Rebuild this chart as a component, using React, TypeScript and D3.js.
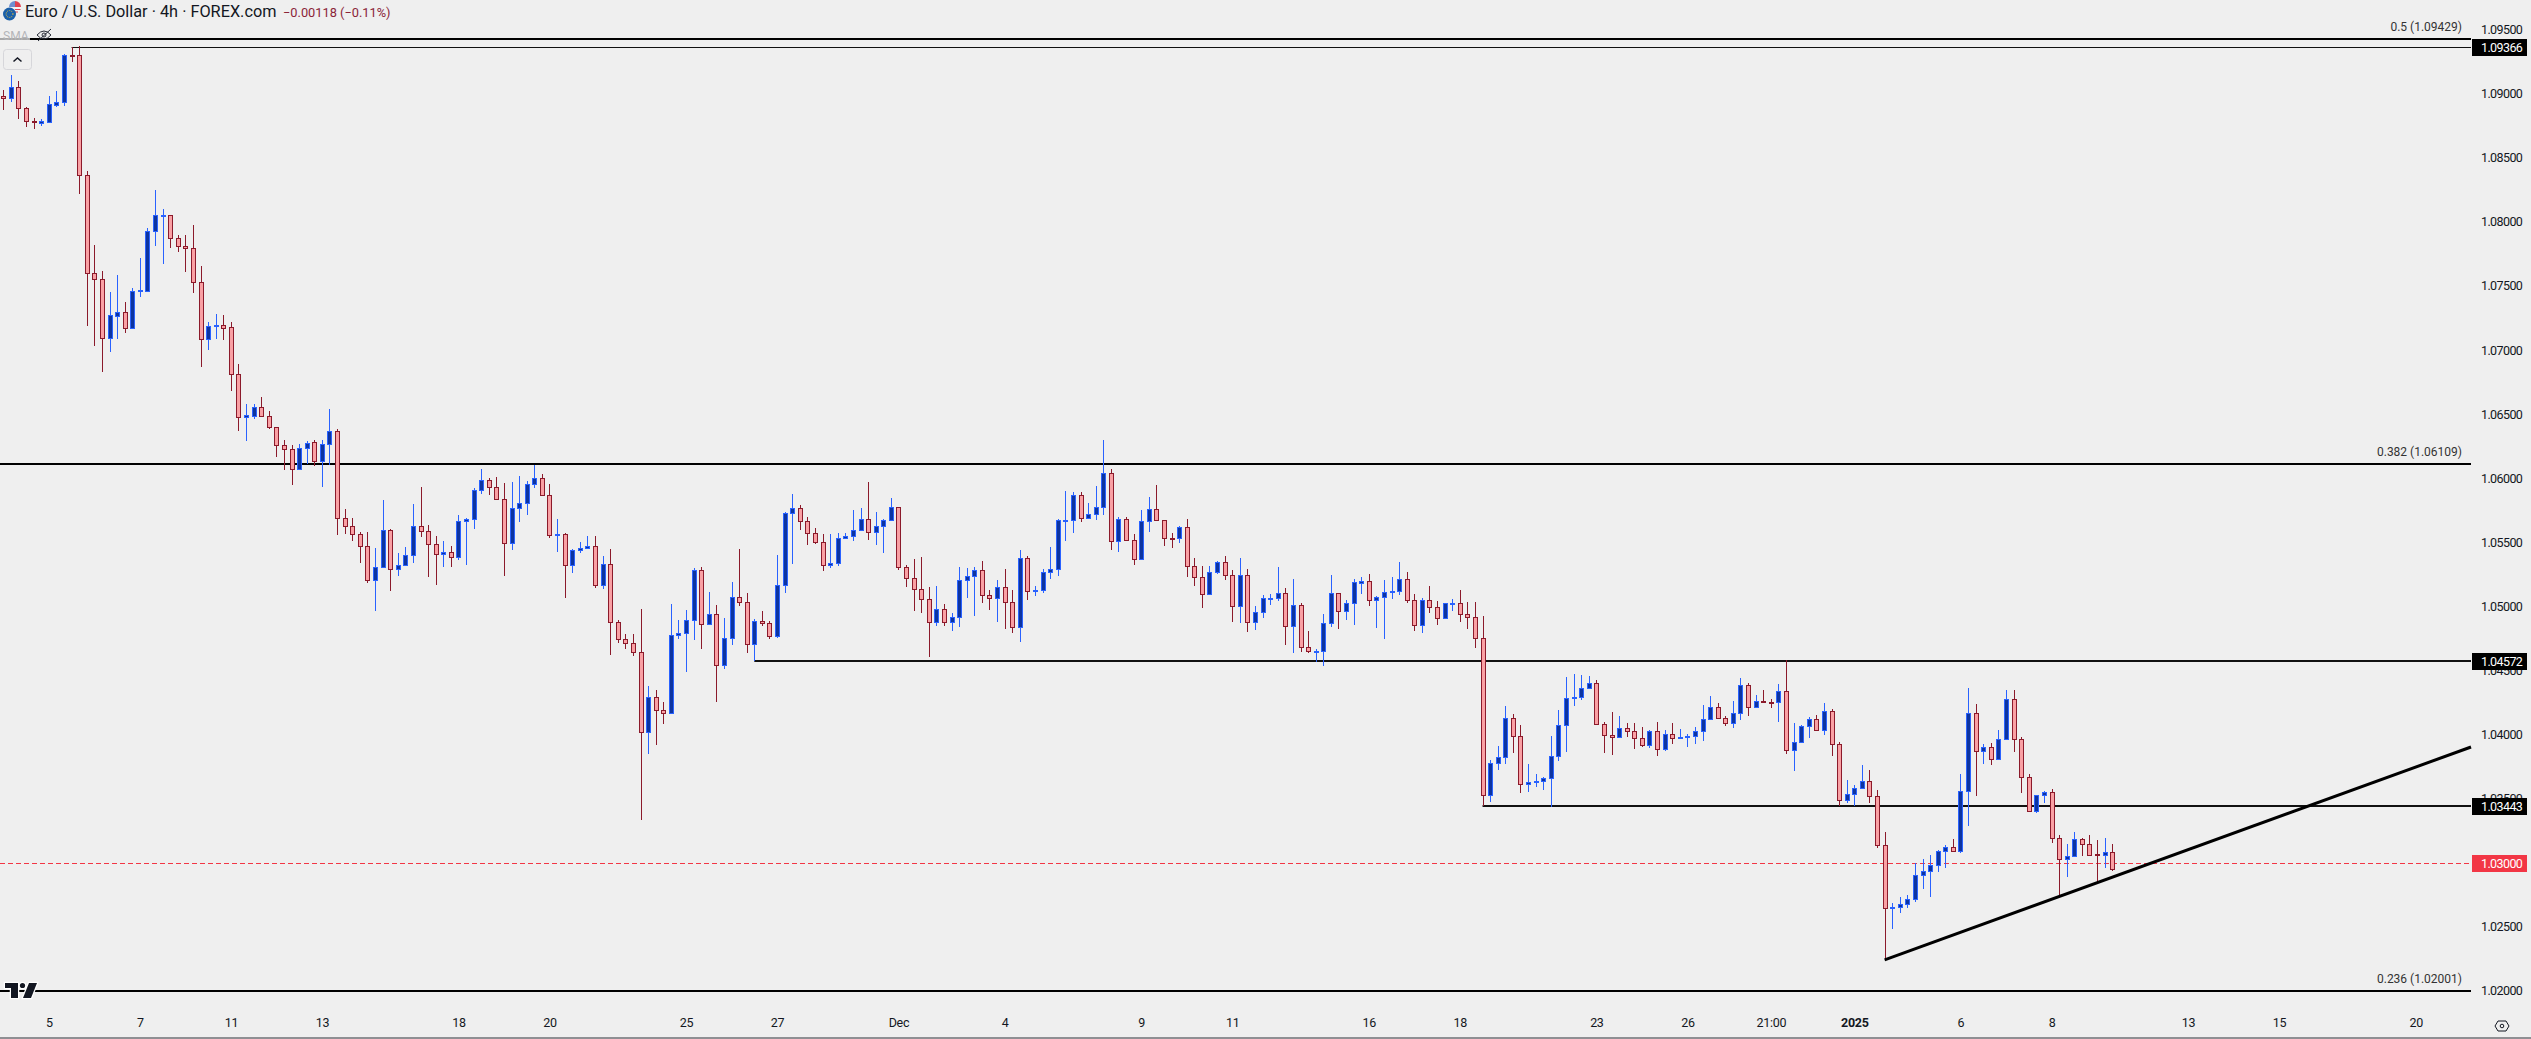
import React, { useEffect, useRef } from "react";
import * as d3 from "d3";

const highs = [
  1.09030,1.09147,1.09100,1.08894,1.08811,1.08803,1.08980,1.09022,1.09311,1.09363,
  1.09370,1.08395,1.07820,1.07617,1.07453,1.07586,1.07375,1.07482,1.07719,1.07950,
  1.08249,1.08101,1.08052,1.07898,1.07898,1.07976,1.07656,1.07219,1.07282,1.07274,
  1.07219,1.06892,1.06579,1.06579,1.06634,1.06525,1.06400,1.06298,1.06259,1.06267,
  1.06291,1.06298,1.06298,1.06540,1.06384,1.05760,1.05690,1.05580,1.05580,1.05456,
  1.05830,1.05604,1.05417,1.05463,1.05799,1.05932,1.05635,1.05549,1.05510,1.05471,
  1.05713,1.05687,1.05921,1.06072,1.05999,1.06009,1.05962,1.05970,1.06017,1.05978,
  1.06103,1.06033,1.05954,1.05681,1.05569,1.05447,1.05502,1.05549,1.05549,1.05393,
  1.05447,1.04893,1.04784,1.04784,1.04979,1.04378,1.04347,1.04253,1.05018,1.04893,
  1.04971,1.05296,1.05304,1.05112,1.05010,1.04909,1.05190,1.05447,1.05104,1.04901,
  1.04963,1.04885,1.05400,1.05733,1.05876,1.05788,1.05697,1.05611,1.05564,1.05564,
  1.05572,1.05572,1.05752,1.05767,1.05970,1.05736,1.05679,1.05845,1.05772,1.05322,
  1.05369,1.05385,1.05151,1.05159,1.05018,1.04948,1.05307,1.05299,1.05307,1.05354,
  1.05127,1.05205,1.05291,1.05127,1.05439,1.05393,1.05159,1.05291,1.05463,1.05681,
  1.05900,1.05892,1.05892,1.05806,1.05939,1.06298,1.06069,1.05697,1.05697,1.05564,
  1.05752,1.05853,1.05947,1.05671,1.05572,1.05627,1.05681,1.05377,1.05315,1.05315,
  1.05354,1.05393,1.05283,1.05377,1.05291,1.05002,1.05088,1.05096,1.05307,1.05143,
  1.05213,1.05026,1.04807,1.04667,1.04940,1.05244,1.05101,1.05049,1.05213,1.05229,
  1.05252,1.05081,1.05205,1.05229,1.05346,1.05268,1.05096,1.05065,1.05159,1.05042,
  1.05023,1.05057,1.05127,1.05034,1.05034,1.04925,1.03801,1.03911,1.04223,1.04160,
  1.04074,1.03770,1.03692,1.03669,1.03989,1.04191,1.04449,1.04472,1.04465,1.04457,
  1.04426,1.04098,1.04176,1.04145,1.04090,1.04090,1.04059,1.04035,1.04098,1.04035,
  1.04090,1.04043,1.04004,1.04059,1.04231,1.04301,1.04246,1.04145,1.04262,1.04441,
  1.04402,1.04309,1.04348,1.04277,1.04394,1.04579,1.04090,1.04074,1.04137,1.04152,
  1.04246,1.04199,1.03942,1.03645,1.03606,1.03762,1.03723,1.03567,1.03236,1.02685,
  1.02731,1.02747,1.02997,1.03028,1.03059,1.03098,1.03137,1.03184,1.03691,1.04362,
  1.04238,1.03925,1.03933,1.04035,1.04347,1.04347,1.03980,1.03691,1.03527,1.03559,
  1.03574,1.03215,1.03145,1.03239,1.03192,1.03215,1.03176,1.03192,1.03145,
];

const lows = [
  1.08874,1.08939,1.08806,1.08744,1.08728,1.08751,1.08772,1.08900,1.08905,1.09251,
  1.08221,1.07191,1.07034,1.06832,1.06988,1.07086,1.07136,1.07175,1.07417,1.07464,
  1.07815,1.07674,1.07799,1.07768,1.07612,1.07448,1.06871,1.07001,1.07086,1.07081,
  1.06681,1.06371,1.06293,1.06465,1.06483,1.06384,1.06168,1.06067,1.05950,1.06070,
  1.06114,1.06098,1.05934,1.06106,1.05560,1.05567,1.05513,1.05341,1.05185,1.04967,
  1.05305,1.05123,1.05240,1.05320,1.05341,1.05544,1.05232,1.05169,1.05309,1.05309,
  1.05364,1.05325,1.05606,1.05879,1.05871,1.05835,1.05239,1.05442,1.05661,1.05715,
  1.05926,1.05866,1.05536,1.05426,1.05067,1.05263,1.05419,1.05452,1.05145,1.05138,
  1.04623,1.04716,1.04669,1.04615,1.03335,1.03850,1.03920,1.04084,1.04165,1.04747,
  1.04490,1.04740,1.04669,1.04859,1.04256,1.04513,1.04701,1.05005,1.04638,1.04573,
  1.04846,1.04747,1.04755,1.05106,1.05333,1.05598,1.05481,1.05489,1.05278,1.05302,
  1.05317,1.05530,1.05512,1.05593,1.05520,1.05481,1.05419,1.05671,1.05286,1.05153,
  1.04966,1.04950,1.04607,1.04849,1.04849,1.04810,1.04841,1.05068,1.04927,1.05029,
  1.04971,1.04880,1.04826,1.04794,1.04724,1.05052,1.05083,1.05107,1.05216,1.05237,
  1.05512,1.05575,1.05661,1.05687,1.05676,1.05713,1.05442,1.05421,1.05515,1.05325,
  1.05367,1.05583,1.05671,1.05471,1.05458,1.05497,1.05231,1.05161,1.04989,1.05094,
  1.05252,1.05208,1.04880,1.04872,1.04802,1.04818,1.04909,1.05013,1.05044,1.04701,
  1.04638,1.04646,1.04638,1.04568,1.04537,1.04841,1.04826,1.04896,1.04857,1.05099,
  1.05005,1.04833,1.04748,1.05060,1.05091,1.05029,1.04810,1.04794,1.04950,1.04857,
  1.04906,1.04966,1.04880,1.04826,1.04677,1.03442,1.03476,1.03723,1.03773,1.03859,
  1.03546,1.03554,1.03591,1.03570,1.03437,1.03796,1.03866,1.04225,1.04272,1.04361,
  1.04080,1.03859,1.03843,1.03978,1.03983,1.03890,1.03905,1.03898,1.03835,1.03874,
  1.03929,1.03968,1.03905,1.03929,1.03952,1.04119,1.04126,1.04069,1.04054,1.04116,
  1.04147,1.04212,1.04257,1.04210,1.04100,1.03851,1.03718,1.03939,1.03976,1.04033,
  1.03999,1.03835,1.03442,1.03461,1.03442,1.03580,1.03468,1.03117,1.02240,1.02484,
  1.02609,1.02648,1.02690,1.02797,1.02734,1.02929,1.02960,1.03088,1.03077,1.03288,
  1.03522,1.03772,1.03764,1.03806,1.03962,1.03866,1.03546,1.03400,1.03390,1.03465,
  1.03155,1.02731,1.02888,1.03049,1.03054,1.03054,1.02833,1.02958,1.02937,
];

const opens = [
  1.08985,1.08965,1.09050,1.08887,1.08785,1.08772,1.08783,1.08915,1.08933,1.09303,
  1.09303,1.08364,1.07599,1.07552,1.07097,1.07269,1.07295,1.07175,1.07461,1.07464,
  1.07927,1.08046,1.08052,1.07872,1.07815,1.07794,1.07529,1.07089,1.07185,1.07198,
  1.07178,1.06811,1.06475,1.06488,1.06553,1.06483,1.06397,1.06257,1.06226,1.06070,
  1.06233,1.06280,1.06132,1.06265,1.06366,1.05687,1.05625,1.05562,1.05469,1.05203,
  1.05305,1.05593,1.05289,1.05320,1.05398,1.05625,1.05586,1.05484,1.05406,1.05421,
  1.05382,1.05663,1.05679,1.05905,1.05983,1.05928,1.05835,1.05491,1.05765,1.05804,
  1.05952,1.05999,1.05866,1.05554,1.05562,1.05320,1.05437,1.05452,1.05468,1.05164,
  1.05328,1.04875,1.04742,1.04711,1.04641,1.04017,1.04290,1.04188,1.04165,1.04773,
  1.04789,1.04891,1.05281,1.04859,1.04937,1.04539,1.04750,1.05070,1.05031,1.04703,
  1.04883,1.04867,1.04766,1.05164,1.05726,1.05765,1.05663,1.05569,1.05499,1.05320,
  1.05335,1.05530,1.05546,1.05593,1.05679,1.05577,1.05624,1.05671,1.05772,1.05304,
  1.05218,1.05133,1.05055,1.04875,1.04976,1.04875,1.04914,1.05203,1.05234,1.05281,
  1.05086,1.05062,1.05148,1.05031,1.04836,1.05374,1.05122,1.05125,1.05265,1.05289,
  1.05668,1.05671,1.05866,1.05687,1.05718,1.05772,1.06038,1.05507,1.05679,1.05515,
  1.05367,1.05663,1.05757,1.05671,1.05533,1.05531,1.05616,1.05312,1.05226,1.05094,
  1.05265,1.05343,1.05242,1.05000,1.05242,1.04875,1.04953,1.05060,1.05062,1.05101,
  1.04844,1.05008,1.04680,1.04649,1.04649,1.04867,1.05101,1.04961,1.05023,1.05185,
  1.05195,1.05047,1.05070,1.05114,1.05117,1.05211,1.05047,1.04852,1.05047,1.04992,
  1.04906,1.05021,1.05023,1.04937,1.04914,1.04751,1.03526,1.03775,1.03822,1.04126,
  1.03986,1.03611,1.03632,1.03635,1.03658,1.03830,1.04072,1.04283,1.04290,1.04361,
  1.04400,1.04080,1.03994,1.03978,1.04048,1.04025,1.03970,1.03916,1.04025,1.03885,
  1.04002,1.03973,1.03978,1.03986,1.04025,1.04119,1.04212,1.04126,1.04087,1.04165,
  1.04384,1.04212,1.04259,1.04251,1.04251,1.04337,1.03877,1.03939,1.04064,1.04119,
  1.04033,1.04181,1.03924,1.03487,1.03533,1.03580,1.03635,1.03518,1.03135,1.02646,
  1.02651,1.02674,1.02713,1.02901,1.02932,1.02979,1.03088,1.03119,1.03088,1.03556,
  1.04165,1.03868,1.03899,1.03806,1.03962,1.04274,1.03962,1.03665,1.03400,1.03525,
  1.03548,1.03189,1.03025,1.03049,1.03182,1.03142,1.03064,1.03057,1.03080,
];

const closes = [
  1.08965,1.09050,1.08887,1.08785,1.08780,1.08788,1.08918,1.08933,1.09303,1.09298,
  1.08364,1.07599,1.07552,1.07097,1.07274,1.07295,1.07175,1.07461,1.07466,1.07929,
  1.08052,1.08054,1.07872,1.07815,1.07794,1.07529,1.07089,1.07185,1.07198,1.07175,
  1.06811,1.06475,1.06491,1.06553,1.06483,1.06397,1.06257,1.06226,1.06070,1.06233,
  1.06278,1.06132,1.06265,1.06366,1.05687,1.05625,1.05562,1.05469,1.05203,1.05305,
  1.05593,1.05289,1.05320,1.05398,1.05625,1.05586,1.05484,1.05406,1.05421,1.05382,
  1.05663,1.05679,1.05905,1.05983,1.05928,1.05835,1.05491,1.05765,1.05804,1.05952,
  1.05999,1.05866,1.05554,1.05562,1.05320,1.05437,1.05452,1.05468,1.05164,1.05328,
  1.04875,1.04742,1.04711,1.04641,1.04017,1.04290,1.04188,1.04165,1.04773,1.04789,
  1.04891,1.05281,1.04859,1.04937,1.04539,1.04750,1.05070,1.05031,1.04703,1.04883,
  1.04867,1.04766,1.05164,1.05726,1.05765,1.05663,1.05569,1.05499,1.05320,1.05335,
  1.05530,1.05546,1.05593,1.05679,1.05577,1.05624,1.05671,1.05772,1.05304,1.05218,
  1.05132,1.05055,1.04875,1.04976,1.04875,1.04914,1.05203,1.05234,1.05281,1.05086,
  1.05062,1.05148,1.05031,1.04836,1.05374,1.05117,1.05127,1.05265,1.05289,1.05671,
  1.05674,1.05866,1.05687,1.05718,1.05772,1.06038,1.05507,1.05679,1.05515,1.05367,
  1.05663,1.05757,1.05671,1.05531,1.05528,1.05616,1.05312,1.05226,1.05094,1.05265,
  1.05343,1.05242,1.05000,1.05242,1.04875,1.04953,1.05062,1.05065,1.05101,1.04844,
  1.05008,1.04680,1.04649,1.04654,1.04867,1.05101,1.04961,1.05023,1.05187,1.05195,
  1.05047,1.05070,1.05109,1.05120,1.05211,1.05047,1.04852,1.05047,1.04992,1.04906,
  1.05023,1.05026,1.04937,1.04914,1.04750,1.03526,1.03775,1.03822,1.04126,1.03986,
  1.03611,1.03627,1.03637,1.03658,1.03830,1.04072,1.04283,1.04290,1.04361,1.04400,
  1.04080,1.03994,1.03978,1.04048,1.04025,1.03970,1.03916,1.04025,1.03885,1.04002,
  1.03970,1.03978,1.03986,1.04025,1.04119,1.04212,1.04126,1.04087,1.04165,1.04384,
  1.04212,1.04259,1.04257,1.04249,1.04337,1.03877,1.03939,1.04064,1.04119,1.04033,
  1.04181,1.03924,1.03487,1.03533,1.03580,1.03635,1.03518,1.03135,1.02643,1.02651,
  1.02674,1.02713,1.02901,1.02932,1.02979,1.03088,1.03119,1.03088,1.03556,1.04165,
  1.03868,1.03899,1.03806,1.03962,1.04274,1.03962,1.03665,1.03400,1.03525,1.03548,
  1.03189,1.03025,1.03049,1.03182,1.03142,1.03062,1.03057,1.03080,1.02953,
];

// bar numbers the date labels sit on (bars are not evenly spaced in calendar time)
const tickBars = [6, 18, 30, 42, 60, 72, 90, 102, 118, 132, 150, 162, 180, 192, 210, 222, 233, 244, 258, 270, 288, 300, 318];
const tickLabels = ["5", "7", "11", "13", "18", "20", "25", "27", "Dec", "4", "9", "11", "16", "18", "23", "26", "21:00", "2025", "6", "8", "13", "15", "20"];

const priceTicks = [1.02, 1.025, 1.03, 1.035, 1.04, 1.045, 1.05, 1.055, 1.06, 1.065, 1.07, 1.075, 1.08, 1.085, 1.09, 1.095];

const levelPrices = [1.09366, 1.04572, 1.03443];
const levelStartBars = [9, 99, 195];
const levelThickness = [1, 2, 2];

const fibPrices = [1.09429, 1.06109, 1.02001];
const fibLabels = ["0.5 (1.09429)", "0.382 (1.06109)", "0.236 (1.02001)"];

const lastPrice = 1.03;
const trendBars = [248, 325.3];
const trendPrices = [1.0224, 1.03902];

const BG = "#efefef";
const UP_WICK = "#2962ff";
const UP_FILL = "#0d34a0";
const DOWN_WICK = "#8b1a2b";
const DOWN_FILL = "#f9a0a4";
const FONT = "Roboto, sans-serif";

const width = 2531;
const height = 1039;
const lineEnd = 2471;

const App: React.FC = () => {
  const svgRef = useRef<SVGSVGElement | null>(null);

  useEffect(() => {
    document.body.style.margin = "0";
    const svg = d3.select(svgRef.current);
    svg.selectAll("*").remove();

    const x = d3.scaleLinear().domain([0, 278]).range([3.3, 2112.2]);
    const y = d3.scaleLinear().domain([1.02, 1.095]).range([990.7, 29.7]);

    svg.append("rect").attr("width", width).attr("height", height).attr("fill", BG);

    // fib lines
    svg
      .selectAll(".fib")
      .data(fibPrices)
      .enter()
      .append("rect")
      .attr("x", 0)
      .attr("y", (d) => Math.round(y(d)) - 1)
      .attr("width", lineEnd)
      .attr("height", 2)
      .attr("fill", "#000");

    svg
      .selectAll(".fibLabel")
      .data(fibLabels)
      .enter()
      .append("text")
      .attr("x", 2462)
      .attr("y", (_, i) => Math.round(y(fibPrices[i])) - 12)
      .attr("dy", "0.35em")
      .attr("text-anchor", "end")
      .attr("font-family", FONT)
      .attr("font-size", 12)
      .attr("fill", "#333")
      .text((d) => d);

    // horizontal levels
    svg
      .selectAll(".level")
      .data(levelPrices)
      .enter()
      .append("rect")
      .attr("x", (_, i) => x(levelStartBars[i]))
      .attr("y", (d, i) => Math.round(y(d)) - (levelThickness[i] > 1 ? 1 : 0))
      .attr("width", (_, i) => lineEnd - x(levelStartBars[i]))
      .attr("height", (_, i) => levelThickness[i])
      .attr("fill", "#111");

    // last price line
    svg
      .append("line")
      .attr("x1", 0)
      .attr("x2", lineEnd)
      .attr("y1", Math.round(y(lastPrice)) + 0.5)
      .attr("y2", Math.round(y(lastPrice)) + 0.5)
      .attr("stroke", "#f23645")
      .attr("stroke-dasharray", "5 3");

    // candles
    const bars = d3.range(closes.length);
    const candle = svg
      .append("g")
      .attr("shape-rendering", "crispEdges")
      .selectAll("g")
      .data(bars)
      .enter()
      .append("g");

    const isUp = (i: number) => closes[i] >= opens[i];
    const cx = (i: number) => Math.round(x(i));

    candle
      .append("rect")
      .attr("x", (i) => cx(i))
      .attr("y", (i) => y(highs[i]))
      .attr("width", 1)
      .attr("height", (i) => y(lows[i]) - y(highs[i]))
      .attr("fill", (i) => (isUp(i) ? UP_WICK : DOWN_WICK));

    candle
      .append("rect")
      .attr("x", (i) => cx(i) - 2)
      .attr("y", (i) => Math.round(y(Math.max(opens[i], closes[i]))))
      .attr("width", 5)
      .attr("height", (i) => Math.max(2, Math.round(y(Math.min(opens[i], closes[i]))) - Math.round(y(Math.max(opens[i], closes[i]))) + 1))
      .attr("fill", (i) => (isUp(i) ? UP_WICK : DOWN_WICK));

    candle
      .append("rect")
      .attr("x", (i) => cx(i) - 1)
      .attr("y", (i) => Math.round(y(Math.max(opens[i], closes[i]))) + 1)
      .attr("width", 3)
      .attr("height", (i) => Math.max(0, Math.round(y(Math.min(opens[i], closes[i]))) - Math.round(y(Math.max(opens[i], closes[i]))) - 1))
      .attr("fill", (i) => (isUp(i) ? UP_FILL : DOWN_FILL));

    // trend line
    const trend = d3
      .line<number>()
      .x((d) => x(d))
      .y((_, i) => y(trendPrices[i]));
    svg
      .append("path")
      .attr("d", trend(trendBars))
      .attr("fill", "none")
      .attr("stroke", "#000")
      .attr("stroke-width", 3);

    // price axis
    const yAxis = svg
      .append("g")
      .attr("transform", "translate(2481,0)")
      .call(
        d3
          .axisRight(y)
          .tickValues(priceTicks)
          .tickSize(0)
          .tickPadding(0)
          .tickFormat((d) => (d as number).toFixed(5))
      );
    yAxis.select(".domain").remove();
    yAxis.selectAll("text").attr("font-family", FONT).attr("font-size", 12.5).attr("letter-spacing", "-0.6px").attr("fill", "#131722");

    // price boxes
    const boxes = [...levelPrices, lastPrice];
    const box = svg.append("g").selectAll("g").data(boxes).enter().append("g");
    box
      .append("rect")
      .attr("x", 2472)
      .attr("y", (d) => Math.round(y(d)) - 8)
      .attr("width", 55)
      .attr("height", 17)
      .attr("fill", (d) => (d === lastPrice ? "#f23645" : "#000"));
    box
      .append("text")
      .attr("x", 2481)
      .attr("y", (d) => Math.round(y(d)) + 0.5)
      .attr("dy", "0.35em")
      .attr("font-family", FONT)
      .attr("font-size", 12.5)
      .attr("letter-spacing", "-0.6px")
      .attr("fill", "#fff")
      .text((d) => d.toFixed(5));

    // time axis
    const xAxis = svg
      .append("g")
      .attr("transform", "translate(0,1018)")
      .call(
        d3
          .axisBottom(x)
          .tickValues(tickBars)
          .tickSize(0)
          .tickPadding(0)
          .tickFormat((_, i) => tickLabels[i])
      );
    xAxis.select(".domain").remove();
    xAxis
      .selectAll("text")
      .attr("font-family", FONT)
      .attr("font-size", 12.5)
      .attr("letter-spacing", "-0.3px")
      .attr("fill", "#131722")
      .attr("font-weight", (_, i) => (tickLabels[i] === "2025" ? 700 : 400));

    svg.append("rect").attr("x", 0).attr("y", 1037).attr("width", width).attr("height", 2).attr("fill", "#8f8f93");

    // settings hexagon
    svg
      .append("path")
      .attr("d", "M2495 1026 L2498 1021 H2506 L2509 1026 L2506 1031 H2498 Z")
      .attr("fill", "none")
      .attr("stroke", "#131722");
    svg.append("circle").attr("cx", 2502).attr("cy", 1026).attr("r", 1.8).attr("fill", "none").attr("stroke", "#131722");

    // TradingView mark
    const tv = svg.append("g").attr("fill", "#131722").attr("stroke", "#fff").attr("stroke-width", 2.5).attr("paint-order", "stroke");
    tv.append("path").attr("d", "M5 983 H18 V998 H11 V988 H5 Z");
    tv.append("circle").attr("cx", 22.5).attr("cy", 985.5).attr("r", 2.6);
    tv.append("path").attr("d", "M29 983 H37 L31 998 H23 Z");

    // header
    const flag = svg.append("g");
    flag.append("circle").attr("cx", 15).attr("cy", 7).attr("r", 6).attr("fill", "#f4f4f4");
    flag.append("path").attr("d", "M15 1 A6 6 0 0 1 21 7 H15 Z").attr("fill", "#e0424f");
    flag.append("path").attr("d", "M15 1 A6 6 0 0 0 9 7 H15 Z").attr("fill", "#6f8fd0");
    flag.append("path").attr("d", "M15 9.5 H20.5 M15 12 H18").attr("stroke", "#e0424f").attr("stroke-width", 1);
    flag.append("circle").attr("cx", 9.5).attr("cy", 14).attr("r", 6.5).attr("fill", "#1a5fa8");
    flag.append("circle").attr("cx", 9.5).attr("cy", 14).attr("r", 3.4).attr("fill", "none").attr("stroke", "#f2c230").attr("stroke-dasharray", "1 1.2");

    svg
      .append("text")
      .attr("x", 25)
      .attr("y", 17)
      .attr("font-family", FONT)
      .attr("font-size", 16.3)
      .attr("fill", "#131722")
      .text("Euro / U.S. Dollar · 4h · FOREX.com");
    svg
      .append("text")
      .attr("x", 283)
      .attr("y", 16.5)
      .attr("font-family", FONT)
      .attr("font-size", 12.8)
      .attr("fill", "#8b2438")
      .text("−0.00118 (−0.11%)");

    // collapsed indicator legend
    svg.append("rect").attr("x", 0).attr("y", 29).attr("width", 30).attr("height", 12).attr("fill", BG).attr("opacity", 0.7);
    svg
      .append("text")
      .attr("x", 3)
      .attr("y", 40)
      .attr("font-family", FONT)
      .attr("font-size", 12)
      .attr("fill", "#b4b5b9")
      .text("SMA");
    const eye = svg.append("g").attr("fill", "none").attr("stroke", "#2a2e39");
    eye.append("path").attr("d", "M37 35 Q44 27 51 35 Q44 43 37 35 Z");
    eye.append("circle").attr("cx", 44).attr("cy", 35).attr("r", 2);
    eye.append("path").attr("d", "M38 41 L51 29");

    svg
      .append("rect")
      .attr("x", 3.5)
      .attr("y", 49.5)
      .attr("width", 28)
      .attr("height", 20)
      .attr("rx", 3)
      .attr("fill", BG)
      .attr("stroke", "#d6d6da");
    svg
      .append("path")
      .attr("d", "M13.5 61.5 L17.5 58 L21.5 61.5")
      .attr("fill", "none")
      .attr("stroke", "#131722")
      .attr("stroke-width", 1.5);
  }, []);

  return (
    <svg ref={svgRef} width={width} height={height} style={{ display: "block" }}>
    </svg>
  );
};

export default App;
